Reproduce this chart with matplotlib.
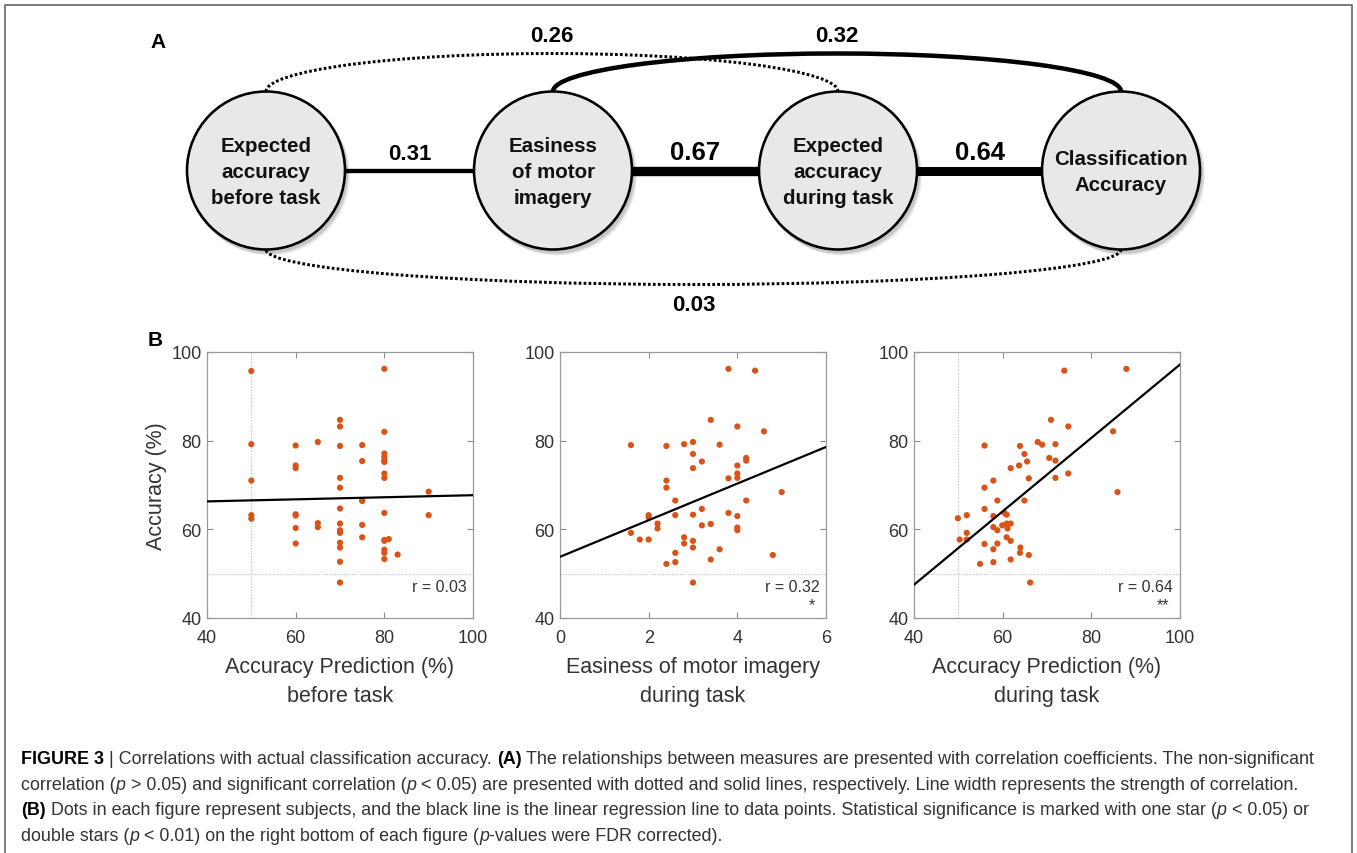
import numpy as np
import matplotlib
matplotlib.use("Agg")
import matplotlib.pyplot as plt
from matplotlib.patches import Circle, Arc
from matplotlib.font_manager import FontProperties

plt.rcParams['font.family'] = ['Liberation Sans', 'DejaVu Sans']

# ---------------- Panel A: correlation network ----------------
node_labels = ["Expected\naccuracy\nbefore task",
               "Easiness\nof motor\nimagery",
               "Expected\naccuracy\nduring task",
               "Classification\nAccuracy"]
edge_pairs = [(0, 1), (1, 2), (2, 3), (0, 2), (1, 3), (0, 3)]
edge_r = [0.31, 0.67, 0.64, 0.26, 0.32, 0.03]
edge_significant = [True, True, True, False, True, False]

# ---------------- Panel B: subjects ----------------
pred_before = [50, 50, 50, 50, 50,
               60, 60, 60, 60, 60, 60, 60,
               65, 65, 65,
               70, 70, 70, 70, 70, 70, 70, 70, 70, 70, 70, 70, 70,
               75, 75, 75, 75, 75, 75,
               80, 80, 80, 80, 80, 80, 80, 80, 80, 80, 80, 81, 80, 80, 80, 83,
               90, 90]
acc_before = [95.7, 79.2, 71.0, 63.2, 62.4,
              78.9, 74.4, 73.8, 63.4, 63.1, 60.3, 56.8,
              79.7, 61.4, 60.5,
              84.7, 83.2, 78.8, 71.6, 69.4, 64.7, 61.3, 59.8, 59.2, 57.0, 55.9, 52.7, 48.0,
              79.0, 75.4, 66.6, 66.4, 61.0, 58.2,
              96.2, 82.0, 77.1, 76.3, 75.6, 75.2, 72.6, 71.6, 63.7, 57.6, 57.4, 57.8, 55.4, 54.7, 53.3, 54.3,
              68.5, 63.2]

easiness = [1.6, 1.6, 1.8, 2.0, 2.0, 2.0, 2.2, 2.2,
            2.4, 2.4, 2.4, 2.4, 2.6, 2.6, 2.6, 2.6,
            2.8, 2.8, 2.8, 3.0, 3.0, 3.0, 3.0, 3.0, 3.0, 3.0,
            3.2, 3.2, 3.2, 3.4, 3.4, 3.4, 3.6, 3.6,
            3.8, 3.8, 3.8, 4.0, 4.0, 4.0, 4.0, 4.0, 4.0, 4.0,
            4.2, 4.2, 4.2, 4.4, 4.6, 4.8, 5.0]
acc_easiness = [79.0, 59.2, 57.7, 57.7, 63.2, 62.7, 61.3, 60.2,
                78.8, 71.0, 69.4, 52.2, 66.5, 63.2, 54.7, 52.6,
                79.2, 58.2, 56.8, 79.7, 77.0, 73.8, 63.3, 57.4, 55.9, 48.0,
                75.3, 64.6, 60.9, 84.7, 61.2, 53.2, 79.1, 55.5,
                96.2, 71.5, 63.7, 83.2, 74.4, 72.6, 71.6, 63.0, 60.4, 59.8,
                76.1, 75.5, 66.5, 95.8, 82.1, 54.2, 68.4]

pred_during = [49.9, 50.3, 51.9, 51.9, 51.9, 54.9, 55.9, 55.9, 55.9, 55.9,
               57.9, 57.9, 57.9, 57.9, 57.9, 58.8, 58.8, 58.8, 59.9, 60.4,
               60.9, 60.9, 60.9, 61.1, 61.8, 61.8, 61.8, 61.8, 63.9, 63.7,
               64.0, 63.9, 64.9, 64.9, 65.5, 65.9, 65.9, 66.2, 67.9, 68.9,
               70.5, 70.9, 71.9, 71.9, 71.9, 73.9, 74.8, 74.8, 84.9, 85.9, 87.9]
acc_during = [62.5, 57.7, 63.2, 59.2, 57.7, 52.2, 78.9, 69.4, 64.6, 56.7,
              71.0, 63.0, 60.5, 55.5, 52.6, 66.5, 59.8, 56.8, 60.9, 63.7,
              63.3, 61.3, 58.2, 60.2, 61.3, 57.4, 53.2, 73.8, 78.8, 74.4,
              55.9, 54.7, 77.0, 66.5, 75.3, 71.5, 54.2, 48.0, 79.7, 79.1,
              76.1, 84.7, 79.2, 75.5, 71.6, 95.8, 83.2, 72.6, 82.1, 68.4, 96.2]

# regression lines: (slope, intercept)
fit_before = (0.0233, 65.37)
fit_easiness = (4.13, 53.8)
fit_during = (0.828, 14.38)
r_values = [0.03, 0.32, 0.64]
sig_marks = ["", "*", "**"]

x_labels = ["Accuracy Prediction (%)\nbefore task",
            "Easiness of motor imagery\nduring task",
            "Accuracy Prediction (%)\nduring task"]
x_limits = [(40, 100), (0, 6), (40, 100)]
x_ticks = [[40, 60, 80, 100], [0, 2, 4, 6], [40, 60, 80, 100]]
y_ticks = [40, 60, 80, 100]

# ---------------- figure ----------------
W, H = 1357, 854
fig = plt.figure(figsize=(W / 100, H / 100), dpi=100)
ov = fig.add_axes([0, 0, 1, 1])
ov.set_xlim(0, W)
ov.set_ylim(H, 0)
ov.axis('off')

PX = 0.72  # points per pixel at 100 dpi

# page frame
ov.plot([5, 5, 1352, 1352], [H, 6, 6, H], color='#555555', lw=1.5 * PX,
        solid_joinstyle='miter', zorder=1)

# ---- network ----
node_x = [266, 553, 838, 1121]
node_y = 171.5
node_r = 79
arc_half_h = {2: 38, 3: 35}

for (i, j), r, sig in zip(edge_pairs, edge_r, edge_significant):
    lw = (14 * r if sig else 3.0) * PX
    ls = '-' if sig else (0, (0.9, 0.75))
    xi, xj = node_x[i], node_x[j]
    span = j - i
    if span == 1:
        ov.plot([xi, xj], [node_y, node_y], color='black', lw=lw, ls=ls,
                solid_capstyle='butt', zorder=2)
        fs = 18.5 if r > 0.5 else 16
        ov.text((xi + xj) / 2, node_y - 12, f"{r:.2f}", ha='center', va='baseline',
                fontsize=fs, fontweight='bold', zorder=5)
    else:
        hh = arc_half_h[span]
        top = span == 2
        cy = node_y - node_r if top else node_y + node_r
        arc = Arc(((xi + xj) / 2, cy), xj - xi, 2 * hh,
                  theta1=180 if top else 0, theta2=360 if top else 180,
                  color='black', lw=lw, ls=ls, zorder=2)
        ov.add_patch(arc)
        ly = cy - hh - 13 if top else cy + hh + 26
        ov.text((xi + xj) / 2, ly, f"{r:.2f}", ha='center', va='baseline',
                fontsize=16, fontweight='bold', zorder=5)

for x, lab in zip(node_x, node_labels):
    for k, a in enumerate([0.10, 0.08, 0.06]):
        ov.add_patch(Circle((x + 2 + k, node_y + 3 + k), node_r + 1, color='black',
                            alpha=a, lw=0, zorder=3))
    ov.add_patch(Circle((x, node_y), node_r, facecolor='#e8e8e8', edgecolor='black',
                        lw=2.6 * PX, zorder=4))
    ov.text(x, node_y + 1, lab, ha='center', va='center', fontsize=14.8,
            fontweight='bold', linespacing=1.45, color='#111111', zorder=5)

ov.text(150, 42, "A", fontsize=15, fontweight='bold', va='center', ha='left')
ov.text(148, 341, "B", fontsize=15, fontweight='bold', va='center', ha='left')

# ---- scatter panels ----
panels = [(pred_before, acc_before, fit_before, True),
          (easiness, acc_easiness, fit_easiness, False),
          (pred_during, acc_during, fit_during, True)]
lefts = [207, 560, 914]
ax_w, ax_top, ax_bot = 266, 353, 619

for k, ((xv, yv, fit, vline), left) in enumerate(zip(panels, lefts)):
    ax = fig.add_axes([left / W, 1 - ax_bot / H, ax_w / W, (ax_bot - ax_top) / H])
    ax.set_xlim(*x_limits[k])
    ax.set_ylim(40, 100)
    ax.axhline(50, color='#b8b8b8', lw=0.8, ls=(0, (1, 1.5)), zorder=1)
    if vline:
        ax.axvline(50, color='#b8b8b8', lw=0.8, ls=(0, (1, 1.5)), zorder=1)
    ax.scatter(xv, yv, s=20, color='#D95319', edgecolors='none', zorder=3)
    xs = np.array(x_limits[k], dtype=float)
    ax.plot(xs, fit[0] * xs + fit[1], color='black', lw=1.6, zorder=4)
    ax.set_xticks(x_ticks[k])
    ax.set_yticks(y_ticks)
    ax.tick_params(direction='in', top=True, right=True, length=4, width=0.8,
                   color='#8a8a8a', labelcolor='#333333', labelsize=13)
    ax.tick_params(axis='x', pad=8)
    ax.tick_params(axis='y', pad=4)
    for sp in ax.spines.values():
        sp.set_color('#999999')
        sp.set_linewidth(0.9)
    ax.set_xlabel(x_labels[k], fontsize=15.5, color='#333333', linespacing=1.5,
                  labelpad=7)
    if k == 0:
        ax.set_ylabel("Accuracy (%)", fontsize=15.5, color='#333333', labelpad=3)
    ax.text(0.975, 0.12, f"r = {r_values[k]:.2f}", transform=ax.transAxes,
            ha='right', va='center', fontsize=11.5, color='#333333')
    if sig_marks[k]:
        ax.text(0.96, 0.052, sig_marks[k], transform=ax.transAxes,
                ha='right', va='center', fontsize=11.5, color='#333333')

# ---- caption ----
renderer = fig.canvas.get_renderer()
reg = FontProperties(family='Liberation Sans')
bold = FontProperties(family='Liberation Sans', weight='bold')
ital = FontProperties(family='Liberation Sans', style='italic')
styles = {'r': reg, 'b': bold, 'i': ital}

caption = [
    [("FIGURE 3", 'b'), (" | Correlations with actual classification accuracy. ", 'r'),
     ("(A)", 'b'), (" The relationships between measures are presented with correlation "
                    "coefficients. The non-significant", 'r')],
    [("correlation (", 'r'), ("p", 'i'), (" > 0.05) and significant correlation (", 'r'),
     ("p", 'i'), (" < 0.05) are presented with dotted and solid lines, respectively. "
                  "Line width represents the strength of correlation.", 'r')],
    [("(B)", 'b'), (" Dots in each figure represent subjects, and the black line is the "
                    "linear regression line to data points. Statistical significance is "
                    "marked with one star (", 'r'), ("p", 'i'), (" < 0.05) or", 'r')],
    [("double stars (", 'r'), ("p", 'i'), (" < 0.01) on the right bottom of each figure (", 'r'),
     ("p", 'i'), ("-values were FDR corrected).", 'r')],
]


def adv(s, fp):
    w1 = renderer.get_text_width_height_descent('x' + s + 'x', fp, ismath=False)[0]
    w0 = renderer.get_text_width_height_descent('xx', fp, ismath=False)[0]
    return w1 - w0


def line_width(line, size):
    tot = 0
    for s, st in line:
        fp = styles[st].copy()
        fp.set_size(size)
        tot += adv(s, fp)
    return tot


cap_size = 10 * 1297 / line_width(caption[0], 10)
cap_x0 = 21
baselines = [764, 790, 815, 841]
for line, yb in zip(caption, baselines):
    x = cap_x0
    for s, st in line:
        fp = styles[st].copy()
        fp.set_size(cap_size)
        lead = len(s) - len(s.lstrip(' '))
        if lead:
            x += adv(' ' * lead, fp)
        body = s.lstrip(' ')
        ov.text(x, yb, body.rstrip(' '), fontproperties=fp, ha='left', va='baseline',
                color='black' if st == 'b' else '#333333')
        x += adv(body, fp)

fig.savefig("out.png", dpi=100)
